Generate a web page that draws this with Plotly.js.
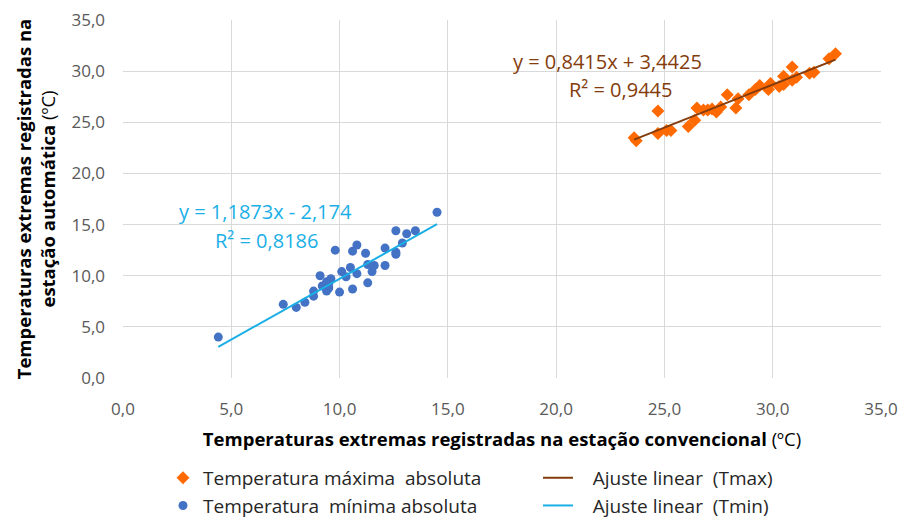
<!DOCTYPE html>
<html>
<head>
<meta charset="utf-8">
<script src="https://cdn.plot.ly/plotly-3.0.1.min.js"></script>
<style>html,body{margin:0;padding:0;background:#fff;}#chart{width:906px;height:518px;}</style>
</head>
<body>
<div id="chart"></div>
<script>
// Temperatura máxima absoluta (convencional x automática)
const tmaxX = [23.6,23.7,24.7,24.7,25.1,25.3,26.1,26.4,26.5,26.8,27.0,27.2,27.4,27.6,27.9,28.3,28.4,28.9,29.2,29.4,29.8,29.9,30.3,30.5,30.5,30.9,30.9,31.1,31.7,31.9,32.6,32.9];
const tmaxY = [23.5,23.2,26.1,23.9,24.2,24.2,24.6,25.2,26.4,26.2,26.2,26.3,26.0,26.5,27.7,26.4,27.3,27.7,28.2,28.6,28.2,28.8,28.5,28.7,29.5,30.4,29.1,29.4,29.8,29.9,31.2,31.7];
// Temperatura mínima absoluta
const tminX = [4.4,7.4,8.0,8.4,8.8,8.8,9.1,9.2,9.4,9.4,9.5,9.6,9.5,9.8,10.0,10.1,10.3,10.5,10.6,10.6,10.8,10.8,11.2,11.3,11.3,11.5,11.6,12.1,12.1,12.6,12.6,12.6,12.9,13.1,13.5,14.5];
const tminY = [4.0,7.2,6.9,7.4,8.0,8.5,10.0,9.0,9.4,8.5,8.8,9.7,9.2,12.5,8.4,10.4,9.9,10.8,8.7,12.4,13.0,10.2,12.2,9.3,11.1,10.4,11.0,12.7,11.0,14.4,12.1,12.3,13.2,14.1,14.4,16.2];
// Trendline coefficients (as shown on the chart)
const fitMax = {a: 0.8415, b: 3.4425};
const fitMin = {a: 1.1873, b: -2.174};
const tickVals = [0,5,10,15,20,25,30,35];

function fitLine(xs, f){
  const x0 = Math.min(...xs), x1 = Math.max(...xs);
  return {x:[x0,x1], y:[f.a*x0+f.b, f.a*x1+f.b]};
}
const lMax = fitLine(tmaxX, fitMax);
const lMin = fitLine(tminX, fitMin);

const font = '"Open Sans", Lato, sans-serif';
const pad = '\u00a0\u00a0\u00a0';
const data = [
  {x: tmaxX, y: tmaxY, mode:'markers', type:'scatter', name:'Temperatura máxima\u00a0 absoluta',
   marker:{symbol:'diamond', size:10, color:'#FF6A00'}},
  {x: lMax.x, y: lMax.y, mode:'lines', type:'scatter', name:pad+'Ajuste linear\u00a0 (Tmax)',
   line:{color:'#843C0C', width:2}},
  {x: tminX, y: tminY, mode:'markers', type:'scatter', name:'Temperatura\u00a0 mínima absoluta',
   marker:{symbol:'circle', size:9, color:'#4472C4'}},
  {x: lMin.x, y: lMin.y, mode:'lines', type:'scatter', name:pad+'Ajuste linear\u00a0 (Tmin)',
   line:{color:'#1AAFE6', width:2}}
];

const layout = {
  width:906, height:518,
  margin:{l:123, r:25, t:20, b:140, autoexpand:false},
  paper_bgcolor:'#fff', plot_bgcolor:'#fff',
  separators:',.',
  font:{family:font, color:'#262626'},
  xaxis:{range:[0,35], tickvals:tickVals, tickformat:'.1f', showgrid:true, gridcolor:'#D9D9D9',
    zeroline:false, showline:false, ticklabelstandoff:19, automargin:false,
    tickfont:{size:17, color:'#595959', family:font},
    title:{text:'<b>Temperaturas extremas registradas na estação convencional</b> (ºC)', font:{size:18.5, color:'#000'}, standoff:14}},
  yaxis:{range:[0,35], tickvals:tickVals, tickformat:'.1f', showgrid:true, gridcolor:'#D9D9D9',
    zeroline:false, showline:false, ticklabelstandoff:17, automargin:false,
    tickfont:{size:17, color:'#595959', family:font},
    title:{text:'<b>Temperaturas extremas registradas na</b><br><b>estação automática</b> (ºC)', font:{size:18.5, color:'#000'}, standoff:10}},
  showlegend:true,
  legend:{orientation:'h', x:(163-123)/758, xanchor:'left', y:-0.226, yanchor:'top',
    entrywidth:330, font:{size:19, color:'#262626', family:font}, tracegroupgap:0, itemsizing:'trace'},
  annotations:[
    {x:607, y:46, text:'y = 0,8415x + 3,4425', showarrow:false, font:{size:20, color:'#843C0C', family:font}},
    {x:620, y:74, text:'R² = 0,9445', showarrow:false, font:{size:20, color:'#843C0C', family:font}},
    {x:177, y:211, text:'y = 1,1873x - 2,174', showarrow:false, font:{size:20, color:'#1AAFE6', family:font}},
    {x:213, y:240, text:'R² = 0,8186', showarrow:false, font:{size:20, color:'#1AAFE6', family:font}}
  ]
};
// annotation pixel positions -> paper coordinates
const pw = 906-123-25, ph = 518-20-140;
layout.annotations.forEach(a=>{ a.xref='paper'; a.yref='paper'; a.x=(a.x-123)/pw; a.y=1-(a.y-20)/ph; });

Plotly.newPlot('chart', data, layout, {displayModeBar:false});
</script>
</body>
</html>
